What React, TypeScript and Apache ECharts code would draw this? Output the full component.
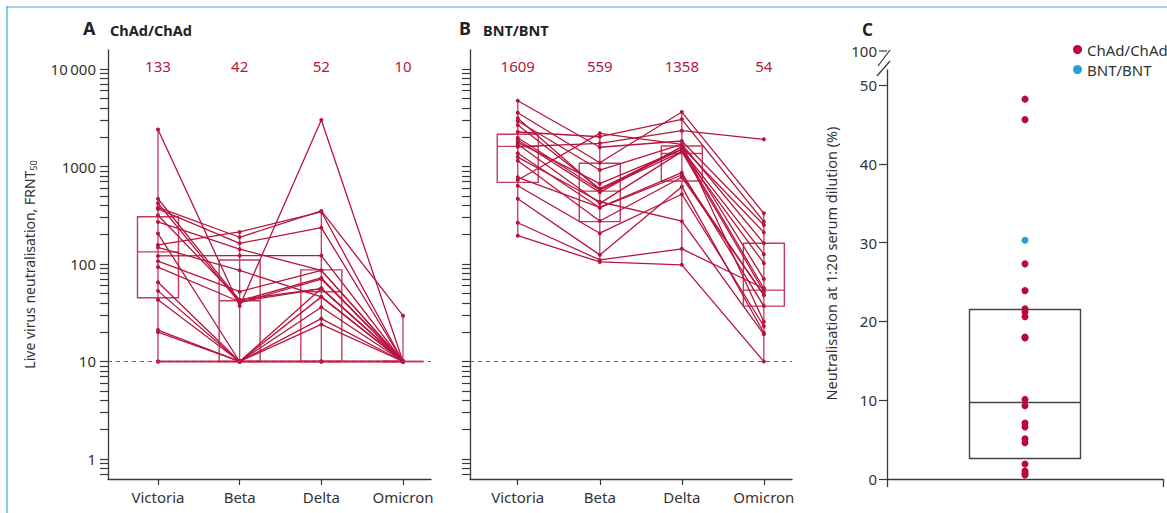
import React, { useEffect, useRef } from 'react';
import * as echarts from 'echarts';

const variants = ['Victoria', 'Beta', 'Delta', 'Omicron'];

// Panel A – ChAd/ChAd, FRNT50 per participant (same index = same participant)
const chadVictoria = [2400, 467, 420, 380, 367, 316, 270, 205, 157, 121, 107, 93, 65, 53, 43, 21, 20, 10, 148, 10];
const chadBeta = [37, 42, 40, 188, 163, 43, 142, 10, 213, 122, 52, 41, 10, 10, 10, 10, 10, 10, 86, 10];
const chadDelta = [3000, 72, 70, 350, 236, 56, 86, 46, 343, 122, 86, 56, 36, 27.5, 24, 10, 10, 10, 46, 56];
const chadOmicron = [10, 10, 10, 29.5, 10, 10, 10, 10, 10, 10, 10, 10, 10, 10, 10, 10, 10, 10, 10, 10];

// Panel B – BNT/BNT
const bntVictoria = [4730, 3560, 3120, 2930, 2665, 2260, 1975, 1870, 1770, 1690, 1595, 1365, 1148, 775, 727, 635, 467, 265, 195, 1250];
const bntBeta = [1575, 1094, 574, 920, 592, 2020, 574, 543, 667, 419, 1730, 378, 276, 381, 2190, 207, 124, 110, 105, 435];
const bntDelta = [1827, 3620, 1595, 1690, 1500, 3050, 1420, 1595, 1500, 1420, 2330, 818, 775, 865, 1690, 519, 621, 143, 98, 275];
const bntOmicron = [251, 331, 211, 163, 126, 272, 102, 70, 56, 52, 1900, 48, 48, 37, 25.6, 23, 19.7, 56, 10, 19];

// Median labels shown above each variant
const chadMedianLabels = ['133', '42', '52', '10'];
const bntMedianLabels = ['1609', '559', '1358', '54'];

// Box statistics
const chadRangeLow = [10, 10, 10, 10];
const chadQ1 = [45, 10, 10, 10];
const chadMedian = [133, 42, 52, 10];
const chadQ3 = [305, 110, 87, 10];
const chadRangeHigh = [2400, 213, 350, 29.5];

const bntRangeLow = [195, 105, 98, 10];
const bntQ1 = [688, 272, 710, 37];
const bntMedian = [1609, 559, 1358, 54];
const bntQ3 = [2140, 1080, 1623, 163];
const bntRangeHigh = [4730, 2190, 3620, 331];

const logTickLabels = [1, 10, 100, 1000, 10000];
const logMinorTicks = [0.7, 0.8, 0.9, 2, 3, 4, 5, 6, 7, 8, 9, 20, 30, 40, 50, 60, 70, 80, 90, 200, 300, 400, 500, 600, 700, 800, 900, 2000, 3000, 4000, 5000, 6000, 7000, 8000, 9000];
const limitOfDetection = 10;

// Panel C – neutralisation at 1:20 serum dilution (%)
const chadNeutralisation = [48.2, 45.6, 27.3, 23.9, 21.6, 21.2, 20.6, 18.0, 17.9, 10.1, 9.3, 7.1, 6.6, 5.1, 4.6, 1.9, 1.0, 0.7, 0.5];
const bntNeutralisation = [30.3];
const cQ1 = [2.6];
const cMedian = [9.7];
const cQ3 = [21.5];
const cTickLabels = [0, 10, 20, 30, 40, 50];
const cBreakLabel = '100';

const FONT = '"Noto Sans", "DejaVu Sans", sans-serif';
const CRIMSON = '#b7153f';
const BOX = '#c23a62';
const TEXT = '#333333';
const AXIS = '#3a3a3a';
const RED = '#b8093a';
const BLUE = '#1ea5cf';

const idx = variants.map((_, i) => i);

function fmtLog(v: number) {
  const r = Math.round(v);
  if (r >= 10000) return String(r).replace(/(\d)(\d{3})$/, '$1\u2009$2');
  return String(r);
}

function logYAxis(gridIndex: number, withLabels: boolean) {
  return {
    type: 'log',
    logBase: 10,
    gridIndex,
    min: 0.623,
    max: 15670,
    name: withLabels ? 'Live virus neutralisation, FRNT{sub|50}' : '',
    nameLocation: 'middle',
    nameGap: 70,
    nameRotate: 90,
    nameTextStyle: {
      fontSize: 14,
      color: TEXT,
      fontFamily: FONT,
      rich: {
        sub: { fontSize: 9, color: TEXT, fontFamily: FONT, verticalAlign: 'bottom', padding: [9, 0, 0, 0] },
      },
    },
    axisLine: { show: true, onZero: false, lineStyle: { color: AXIS, width: 1.3 } },
    axisTick: {
      show: true,
      length: 8,
      customValues: [...logTickLabels, ...logMinorTicks],
      lineStyle: { color: AXIS, width: 1.2 },
    },
    axisLabel: {
      show: withLabels,
      customValues: logTickLabels,
      margin: 12,
      fontSize: 15,
      color: TEXT,
      fontFamily: FONT,
      formatter: (v: number) => fmtLog(v),
    },
    splitLine: { show: false },
  };
}

function variantXAxis(gridIndex: number, min: number, max: number) {
  return {
    type: 'value',
    gridIndex,
    min,
    max,
    position: 'bottom',
    axisLine: { show: true, onZero: false, lineStyle: { color: AXIS, width: 1.3 } },
    axisTick: { show: true, length: 6, customValues: idx, lineStyle: { color: AXIS, width: 1.2 } },
    axisLabel: {
      customValues: idx,
      formatter: (v: number) => variants[Math.round(v)],
      margin: 10,
      fontSize: 15,
      color: TEXT,
      fontFamily: FONT,
    },
    splitLine: { show: false },
  };
}

function medianXAxis(gridIndex: number, min: number, max: number, labels: string[]) {
  return {
    type: 'value',
    gridIndex,
    min,
    max,
    position: 'top',
    axisLine: { show: false, onZero: false },
    axisTick: { show: false },
    splitLine: { show: false },
    axisLabel: {
      inside: true,
      customValues: idx,
      formatter: (v: number) => labels[Math.round(v)],
      margin: 8,
      fontSize: 15,
      color: CRIMSON,
      fontFamily: FONT,
    },
  };
}

function boxSeries(
  xAxisIndex: number,
  yAxisIndex: number,
  data: (number | null)[][],
  color: string,
  boxWidth: number,
) {
  return {
    type: 'custom',
    xAxisIndex,
    yAxisIndex,
    z: 1,
    silent: true,
    data,
    encode: { x: 0, y: [2, 3, 4] },
    renderItem: (params: any, api: any) => {
      const x = api.value(0);
      const lo = api.value(1);
      const q1 = api.value(2);
      const med = api.value(3);
      const q3 = api.value(4);
      const hi = api.value(5);
      const pQ1 = api.coord([x, q1]);
      const pQ3 = api.coord([x, q3]);
      const pMed = api.coord([x, med]);
      const cx = pQ1[0];
      const children: any[] = [];
      if (lo != null && hi != null && !isNaN(lo) && !isNaN(hi)) {
        const pLo = api.coord([x, lo]);
        const pHi = api.coord([x, hi]);
        children.push({
          type: 'line',
          shape: { x1: cx, y1: pLo[1], x2: cx, y2: pHi[1] },
          style: { stroke: color, lineWidth: 1.3 },
        });
      }
      children.push({
        type: 'rect',
        shape: { x: cx - boxWidth / 2, y: pQ3[1], width: boxWidth, height: pQ1[1] - pQ3[1] },
        style: { fill: 'none', stroke: color, lineWidth: 1.4 },
      });
      children.push({
        type: 'line',
        shape: { x1: cx - boxWidth / 2, y1: pMed[1], x2: cx + boxWidth / 2, y2: pMed[1] },
        style: { stroke: color, lineWidth: 1.4 },
      });
      return { type: 'group', children };
    },
  };
}

function participantSeries(xAxisIndex: number, yAxisIndex: number, panel: number[][]) {
  const n = panel[0].length;
  const out: any[] = [];
  for (let i = 0; i < n; i++) {
    const s: any = {
      type: 'line',
      xAxisIndex,
      yAxisIndex,
      z: 3,
      silent: true,
      symbol: 'circle',
      symbolSize: 4,
      showSymbol: true,
      lineStyle: { color: CRIMSON, width: 1.3 },
      itemStyle: { color: CRIMSON },
      data: panel.map((vals, j) => [j, vals[i]]),
    };
    if (i === 0) {
      s.markLine = {
        silent: true,
        symbol: 'none',
        z: 5,
        label: { show: false },
        lineStyle: { color: '#3b6f86', width: 1.2, type: [4, 4] },
        data: [{ yAxis: limitOfDetection }],
      };
    }
    out.push(s);
  }
  return out;
}

const App: React.FC = () => {
  const ref = useRef<HTMLDivElement>(null);
  useEffect(() => {
    if (!ref.current) return;
    const chart = echarts.init(ref.current, undefined, { renderer: 'svg' });
    const chadBoxData = idx.map((i) => [i, chadRangeLow[i], chadQ1[i], chadMedian[i], chadQ3[i], chadRangeHigh[i]]);
    const bntBoxData = idx.map((i) => [i, bntRangeLow[i], bntQ1[i], bntMedian[i], bntQ3[i], bntRangeHigh[i]]);
    const cBoxData = cQ1.map((q, i) => [0.5, null, q, cMedian[i], cQ3[i], null]);

    const option: any = {
      animation: false,
      backgroundColor: '#ffffff',
      textStyle: { fontFamily: FONT },
      grid: [
        { left: 108, top: 50, width: 323, height: 429 },
        { left: 470, top: 50, width: 322, height: 429 },
        { left: 887, top: 70, width: 276, height: 409 },
      ],
      xAxis: [
        variantXAxis(0, -0.612, 3.343),
        medianXAxis(0, -0.612, 3.343, chadMedianLabels),
        variantXAxis(1, -0.582, 3.343),
        medianXAxis(1, -0.582, 3.343, bntMedianLabels),
        {
          type: 'value',
          gridIndex: 2,
          min: 0,
          max: 1,
          interval: 1,
          axisLine: { show: true, onZero: false, lineStyle: { color: AXIS, width: 1.3 } },
          axisTick: { show: true, length: 8, lineStyle: { color: AXIS, width: 1.3 } },
          axisLabel: { show: false },
          splitLine: { show: false },
        },
      ],
      yAxis: [
        logYAxis(0, true),
        logYAxis(1, false),
        {
          type: 'value',
          gridIndex: 2,
          min: 0,
          max: 51.9,
          name: 'Neutralisation at 1:20 serum dilution (%)',
          nameLocation: 'middle',
          nameGap: 49,
          nameRotate: 90,
          nameTextStyle: { fontSize: 14.5, color: TEXT, fontFamily: FONT, padding: [0, 0, 0, 22] },
          axisLine: { show: true, onZero: false, lineStyle: { color: AXIS, width: 1.3 } },
          axisTick: { show: true, length: 8, customValues: cTickLabels, lineStyle: { color: AXIS, width: 1.2 } },
          axisLabel: { customValues: cTickLabels, margin: 10, fontSize: 15, color: TEXT, fontFamily: FONT },
          splitLine: { show: false },
        },
      ],
      legend: {
        data: ['ChAd/ChAd', 'BNT/BNT'],
        orient: 'vertical',
        left: 1073,
        top: 42,
        padding: 0,
        icon: 'circle',
        itemWidth: 9,
        itemHeight: 9,
        itemGap: 5,
        textStyle: { fontSize: 15, color: TEXT, fontFamily: FONT },
        selectedMode: false,
      },
      series: [
        boxSeries(0, 0, chadBoxData, BOX, 41),
        ...participantSeries(0, 0, [chadVictoria, chadBeta, chadDelta, chadOmicron]),
        boxSeries(2, 1, bntBoxData, BOX, 41),
        ...participantSeries(2, 1, [bntVictoria, bntBeta, bntDelta, bntOmicron]),
        boxSeries(4, 2, cBoxData, '#444444', 111),
        {
          name: 'ChAd/ChAd',
          type: 'scatter',
          xAxisIndex: 4,
          yAxisIndex: 2,
          z: 4,
          symbol: 'circle',
          symbolSize: 7,
          itemStyle: { color: RED, opacity: 1 },
          data: chadNeutralisation.map((v) => [0.5, v]),
        },
        {
          name: 'BNT/BNT',
          type: 'scatter',
          xAxisIndex: 4,
          yAxisIndex: 2,
          z: 4,
          symbol: 'circle',
          symbolSize: 7,
          itemStyle: { color: BLUE, opacity: 1 },
          data: bntNeutralisation.map((v) => [0.5, v]),
        },
      ],
      graphic: [
        { type: 'line', silent: true, shape: { x1: 7, y1: 6, x2: 7, y2: 513 }, style: { stroke: '#86cde6', lineWidth: 2 } },
        { type: 'line', silent: true, shape: { x1: 6, y1: 7, x2: 1167, y2: 7 }, style: { stroke: '#4aaed4', lineWidth: 1.2 } },
        { type: 'text', x: 83, y: 28, style: { text: 'A', fontSize: 18, fontWeight: 'bold', fontFamily: FONT, fill: '#222', verticalAlign: 'middle' } },
        { type: 'text', x: 110, y: 30, style: { text: 'ChAd/ChAd', fontSize: 14.5, fontWeight: 'bold', fontFamily: FONT, fill: '#222', verticalAlign: 'middle' } },
        { type: 'text', x: 459, y: 28, style: { text: 'B', fontSize: 18, fontWeight: 'bold', fontFamily: FONT, fill: '#222', verticalAlign: 'middle' } },
        { type: 'text', x: 483, y: 30, style: { text: 'BNT/BNT', fontSize: 14.5, fontWeight: 'bold', fontFamily: FONT, fill: '#222', verticalAlign: 'middle' } },
        { type: 'text', x: 862, y: 29, style: { text: 'C', fontSize: 17, fontWeight: 'bold', fontFamily: FONT, fill: '#222', verticalAlign: 'middle' } },
        { type: 'text', x: 877, y: 51, style: { text: cBreakLabel, fontSize: 15, fontFamily: FONT, fill: TEXT, align: 'right', verticalAlign: 'middle' } },
        { type: 'line', silent: true, shape: { x1: 879, y1: 51, x2: 887, y2: 51 }, style: { stroke: AXIS, lineWidth: 1.2 } },
        { type: 'line', silent: true, shape: { x1: 878, y1: 66, x2: 890, y2: 50 }, style: { stroke: AXIS, lineWidth: 1.2 } },
        { type: 'line', silent: true, shape: { x1: 877, y1: 76, x2: 890, y2: 61 }, style: { stroke: AXIS, lineWidth: 1.2 } },
      ],
    };
    chart.setOption(option);
    return () => chart.dispose();
  }, []);
  return <div ref={ref} style={{ position: 'absolute', left: 0, top: 0, width: 1167, height: 513 }} />;
};

export default App;
